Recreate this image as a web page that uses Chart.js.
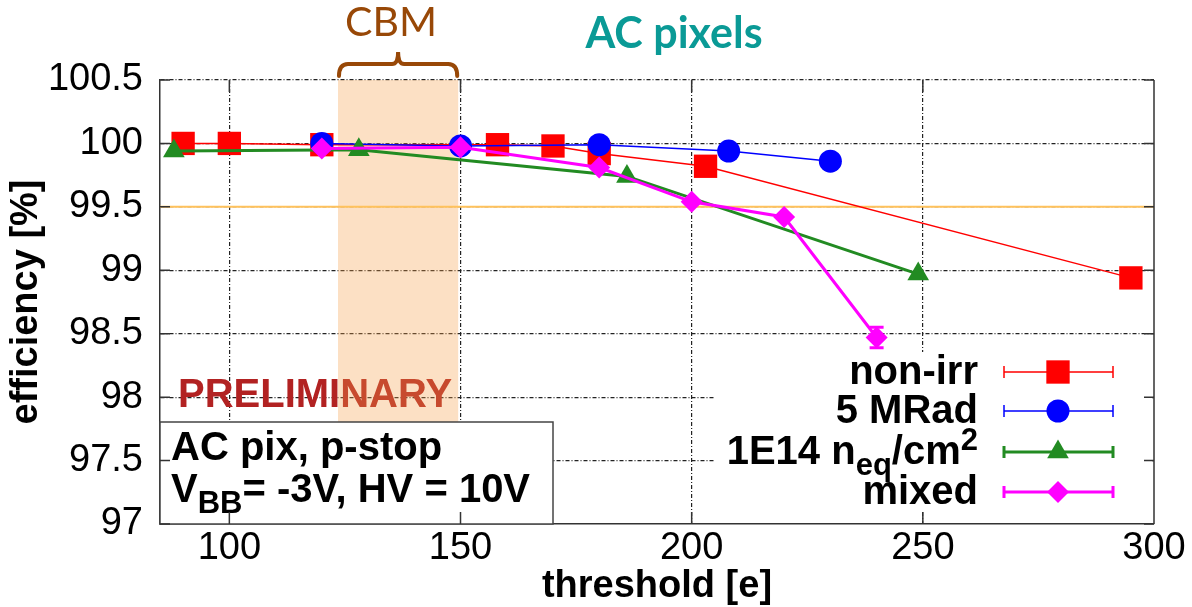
<!DOCTYPE html>
<html>
<head>
<meta charset="utf-8">
<script src="https://cdn.jsdelivr.net/npm/chart.js@4.4.0/dist/chart.umd.min.js"></script>
<style>
  html, body { margin: 0; padding: 0; background: #fff; }
</style>
</head>
<body>
<canvas id="myChart" width="1192" height="607"></canvas>
<script>
// axis ranges and ticks
const xRange = [85, 300];
const yRange = [97, 100.5];
const xTicks = [100, 150, 200, 250, 300];
const yTicks = [97, 97.5, 98, 98.5, 99, 99.5, 100, 100.5];

// series (threshold [e] vs efficiency [%])
const nonIrrX = [90, 100, 120, 158, 170, 180, 203, 295];
const nonIrrY = [100.0, 100.0, 99.99, 99.99, 99.98, 99.92, 99.82, 98.94];
const mradX = [120, 150, 180, 208, 230];
const mradY = [100.0, 99.98, 99.99, 99.94, 99.86];
const neqX = [88, 128, 186, 249];
const neqY = [99.94, 99.95, 99.74, 98.97];
const mixedX = [120, 150, 180, 200, 220, 240];
const mixedY = [99.96, 99.97, 99.81, 99.54, 99.42, 98.47];
const mixedErr = [0, 0, 0, 0, 0, 0.08];

const effLimit = 99.5;
const cbmRange = [123.5, 149.5];

// legend labels: [text, 0 normal | 1 sub | 2 sup]
const seriesLabels = [
  [["non-irr", 0]],
  [["5 MRad", 0]],
  [["1E14 n", 0], ["eq", 1], ["/cm", 0], ["2", 2]],
  [["mixed", 0]],
];

const FONT = "'Liberation Sans', Arial, Helvetica, sans-serif";

function drawRich(ctx, parts, x, base, size, align) {
  const fontOf = k => `bold ${k ? Math.round(size * 0.78) : size}px ${FONT}`;
  let w = 0;
  parts.forEach(([t, k]) => { ctx.font = fontOf(k); w += ctx.measureText(t).width; });
  let cx = align === "right" ? x - w : x;
  ctx.textAlign = "left";
  ctx.textBaseline = "alphabetic";
  parts.forEach(([t, k]) => {
    ctx.font = fontOf(k);
    const dy = k === 1 ? size * 0.27 : k === 2 ? -size * 0.34 : 0;
    ctx.fillText(t, cx, base + dy);
    cx += ctx.measureText(t).width;
  });
}

const mkSet = (label, xs, ys, color, width, style, radius, order) => ({
  label,
  data: xs.map((v, i) => ({ x: v, y: ys[i] })),
  borderColor: color,
  backgroundColor: color,
  borderWidth: width,
  pointStyle: style,
  pointRadius: radius,
  pointHoverRadius: radius,
  pointBorderWidth: 0,
  tension: 0,
  fill: false,
  order,
});

const datasets = [
  mkSet("non-irr", nonIrrX, nonIrrY, "#FF0000", 1.5, "rect", 16.5, 4),
  mkSet("5 MRad", mradX, mradY, "#0000FF", 1.5, "circle", 11.5, 3),
  mkSet("1E14", neqX, neqY, "#228B22", 3, "triangle", 12.5, 2),
  mkSet("mixed", mixedX, mixedY, "#FF00FF", 3, "rectRot", 11, 1),
  {
    label: "limit",
    data: [{ x: xRange[0], y: effLimit }, { x: xRange[1], y: effLimit }],
    borderColor: "#FFC25C",
    borderWidth: 2,
    pointRadius: 0,
    order: 5,
  },
];

const decor = {
  id: "decor",
  beforeDatasetsDraw(chart) {
    const { ctx, chartArea: a, scales: { x } } = chart;
    ctx.save();
    ctx.font = `bold 40px ${FONT}`;
    ctx.fillStyle = "#B22222";
    ctx.textAlign = "left";
    ctx.textBaseline = "alphabetic";
    ctx.fillText("PRELIMINARY", a.left + 18, 407);
    const b0 = x.getPixelForValue(cbmRange[0]);
    const b1 = x.getPixelForValue(cbmRange[1]);
    ctx.fillStyle = "rgba(245,160,70,0.32)";
    ctx.fillRect(b0, a.top, b1 - b0, a.bottom - a.top);
    ctx.restore();
  },
  afterDatasetsDraw(chart) {
    const { ctx, chartArea: a, scales: { x, y } } = chart;
    ctx.save();

    // error bars on mixed
    ctx.strokeStyle = "#FF00FF";
    ctx.lineWidth = 3;
    mixedErr.forEach((e, i) => {
      if (!e) return;
      const px = x.getPixelForValue(mixedX[i]);
      const y0 = y.getPixelForValue(mixedY[i] - e);
      const y1 = y.getPixelForValue(mixedY[i] + e);
      ctx.beginPath();
      ctx.moveTo(px, y0); ctx.lineTo(px, y1);
      ctx.moveTo(px - 7, y0); ctx.lineTo(px + 7, y0);
      ctx.moveTo(px - 7, y1); ctx.lineTo(px + 7, y1);
      ctx.stroke();
    });

    // info box
    ctx.fillStyle = "#fff";
    ctx.fillRect(a.left, 422, 553 - a.left, a.bottom - 422);
    ctx.strokeStyle = "#444";
    ctx.lineWidth = 1.5;
    ctx.strokeRect(a.left, 422, 553 - a.left, a.bottom - 422);
    ctx.fillStyle = "#000";
    drawRich(ctx, [["AC pix, p-stop", 0]], 171, 460, 40, "left");
    ctx.font = `bold 40px ${FONT}`;
    ctx.fillText("V", 171, 502);
    const vw = ctx.measureText("V").width;
    ctx.font = `bold 31px ${FONT}`;
    ctx.fillText("BB", 171 + vw, 513);
    const bw = ctx.measureText("BB").width;
    ctx.font = `bold 40px ${FONT}`;
    ctx.fillText("= -3V, HV = 10V", 171 + vw + bw, 502);

    // legend
    ctx.fillStyle = "#fff";
    ctx.fillRect(715, 352, a.right - 717, 159);
    const rows = [372, 411, 452, 492];
    datasets.slice(0, 4).forEach((d, i) => {
      const cy = rows[i];
      ctx.fillStyle = "#000";
      drawRich(ctx, seriesLabels[i], 978, cy + 12, 40, "right");
      ctx.strokeStyle = d.borderColor;
      ctx.lineWidth = d.borderWidth;
      ctx.beginPath();
      ctx.moveTo(1004, cy); ctx.lineTo(1113, cy);
      ctx.moveTo(1004, cy - 6); ctx.lineTo(1004, cy + 6);
      ctx.moveTo(1113, cy - 6); ctx.lineTo(1113, cy + 6);
      ctx.stroke();
      ctx.fillStyle = d.backgroundColor;
      Chart.helpers.drawPoint(ctx, { pointStyle: d.pointStyle, radius: d.pointRadius, rotation: 0, borderWidth: 0 }, 1058, cy);
    });

    // mirror ticks and right border
    ctx.strokeStyle = "#333";
    ctx.lineWidth = 1.5;
    ctx.beginPath();
    yTicks.forEach(v => {
      const py = y.getPixelForValue(v);
      ctx.moveTo(a.left, py); ctx.lineTo(a.left + 10, py);
      ctx.moveTo(a.right, py); ctx.lineTo(a.right - 10, py);
    });
    xTicks.forEach(v => {
      const px = x.getPixelForValue(v);
      ctx.moveTo(px, a.bottom); ctx.lineTo(px, a.bottom - 12);
      ctx.moveTo(px, a.top); ctx.lineTo(px, a.top + 12);
    });
    ctx.moveTo(a.right, a.top); ctx.lineTo(a.right, a.bottom);
    ctx.stroke();

    // CBM brace
    const b0 = x.getPixelForValue(cbmRange[0]) + 1;
    const b1 = x.getPixelForValue(cbmRange[1]) - 1;
    const cx = (b0 + b1) / 2;
    const by = 64;
    ctx.strokeStyle = "#984807";
    ctx.lineWidth = 4;
    ctx.lineCap = "round";
    ctx.beginPath();
    ctx.moveTo(b0, 76);
    ctx.quadraticCurveTo(b0, by, b0 + 9, by);
    ctx.lineTo(cx - 6, by);
    ctx.quadraticCurveTo(cx, by, cx, 52);
    ctx.quadraticCurveTo(cx, by, cx + 6, by);
    ctx.lineTo(b1 - 9, by);
    ctx.quadraticCurveTo(b1, by, b1, 76);
    ctx.stroke();

    ctx.textAlign = "center";
    ctx.textBaseline = "alphabetic";
    ctx.fillStyle = "#984807";
    ctx.font = "41px Lato, 'Open Sans', sans-serif";
    ctx.fillText("CBM", cx - 7, 36);
    ctx.fillStyle = "#0A9A96";
    ctx.font = "bold 43px Lato, 'Open Sans', sans-serif";
    ctx.fillText("AC pixels", 674, 48);
    ctx.restore();
  },
};

const gridColor = edge => c => (c.tick && c.tick.value === edge ? "rgba(0,0,0,0)" : "#222");

var ctx = document.getElementById("myChart").getContext("2d");
var myChart = new Chart(ctx, {
  type: "line",
  data: { datasets },
  options: {
    responsive: false,
    animation: false,
    layout: { padding: { top: 80, right: 38, left: 0, bottom: 0 } },
    plugins: { legend: { display: false }, tooltip: { enabled: false } },
    scales: {
      x: {
        type: "linear",
        min: xRange[0],
        max: xRange[1],
        afterFit: s => { s.height = 83; },
        afterBuildTicks: s => { s.ticks = xTicks.map(v => ({ value: v })); },
        grid: { color: gridColor(300), lineWidth: 1.2, drawTicks: false },
        border: { display: true, color: "#333", width: 1.5, dash: [4, 2, 1, 2] },
        ticks: { font: { family: FONT, size: 38 }, color: "#000", padding: 2, maxRotation: 0, autoSkip: false, callback: v => String(v) },
        title: { display: true, text: "threshold [e]", color: "#000", font: { family: FONT, size: 38, weight: "bold" }, padding: { top: 0, bottom: -2 } },
      },
      y: {
        type: "linear",
        min: yRange[0],
        max: yRange[1],
        afterFit: s => { s.width = 160; },
        afterBuildTicks: s => { s.ticks = yTicks.map(v => ({ value: v })); },
        grid: { color: gridColor(97), lineWidth: 1.2, drawTicks: false },
        border: { display: true, color: "#333", width: 1.5, dash: [4, 2, 1, 2] },
        ticks: { font: { family: FONT, size: 38 }, color: "#000", padding: 17, autoSkip: false, callback: v => String(v) },
        title: { display: true, text: "efficiency [%]", color: "#000", font: { family: FONT, size: 38, weight: "bold" }, padding: { top: 4, bottom: 4 } },
      },
    },
  },
  plugins: [decor],
});
</script>
</body>
</html>
